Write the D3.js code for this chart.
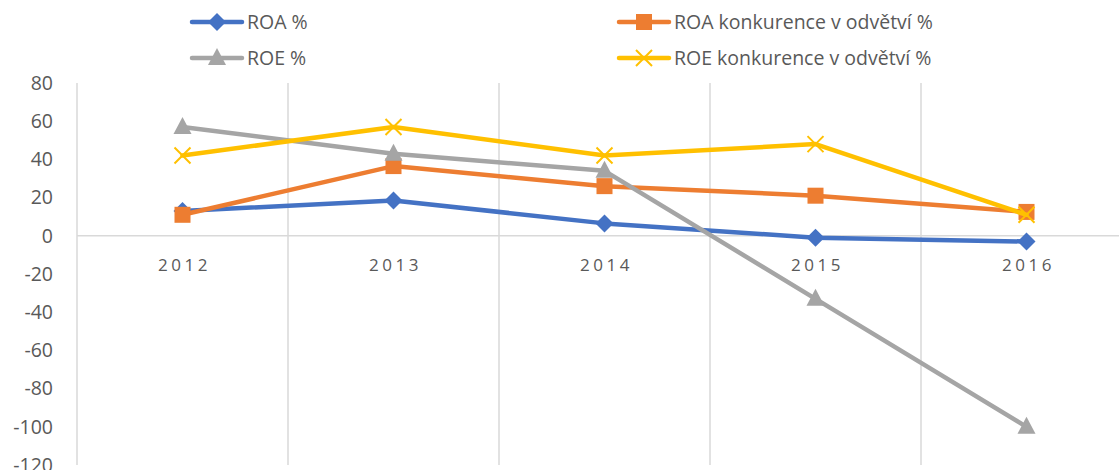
<!DOCTYPE html>
<html>
<head>
<meta charset="utf-8">
<script src="https://cdn.jsdelivr.net/npm/d3@7"></script>
<style>
  body { margin: 0; background: #fff; }
  text { font-family: "Open Sans", "Liberation Sans", sans-serif; fill: #595959; }
</style>
</head>
<body>
<svg id="chart"></svg>
<script>
// data
var years = ["2012", "2013", "2014", "2015", "2016"];
var roa = [13, 18.5, 6.5, -1, -3];
var roaKonk = [11, 36.5, 26, 21, 12.5];
var roe = [57, 43, 34, -33, -100];
var roeKonk = [42, 57, 42, 48, 11];
var yTicks = [80, 60, 40, 20, 0, -20, -40, -60, -80, -100, -120];

var series = [
	{ name: "ROA %", values: roa, color: "#4472C4", marker: "diamond" },
	{ name: "ROA konkurence v odvětví %", values: roaKonk, color: "#ED7D31", marker: "square" },
	{ name: "ROE %", values: roe, color: "#A5A5A5", marker: "triangle" },
	{ name: "ROE konkurence v odvětví %", values: roeKonk, color: "#FFC000", marker: "cross" }
];

var width = 1119, height = 470;
var margin = { left: 77, right: -13, top: 83, bottom: 5 };

var svg = d3.select("#chart")
	.attr("width", width)
	.attr("height", height);

var x = d3.scaleBand()
	.domain(years)
	.range([margin.left, width - margin.right])
	.padding(0);

var y = d3.scaleLinear()
	.domain([-120, 80])
	.range([height - margin.bottom, margin.top]);

// vertical gridlines at category boundaries
var bounds = years.slice(1).map(function(d) { return x(d); });
svg.append("g").selectAll("line")
	.data(bounds)
	.enter().append("line")
	.attr("x1", function(d) { return d; })
	.attr("x2", function(d) { return d; })
	.attr("y1", y(80))
	.attr("y2", y(-120))
	.attr("stroke", "#D9D9D9")
	.attr("stroke-width", 1.5);

// left axis line
svg.append("line")
	.attr("x1", margin.left).attr("x2", margin.left)
	.attr("y1", y(80)).attr("y2", y(-120))
	.attr("stroke", "#D9D9D9")
	.attr("stroke-width", 1.5);

// zero line
svg.append("line")
	.attr("x1", margin.left).attr("x2", width)
	.attr("y1", y(0)).attr("y2", y(0))
	.attr("stroke", "#D9D9D9")
	.attr("stroke-width", 1.5);

// y labels
svg.append("g").selectAll("text")
	.data(yTicks)
	.enter().append("text")
	.attr("x", 53)
	.attr("y", function(d) { return y(d); })
	.attr("dy", "0.35em")
	.attr("text-anchor", "end")
	.style("font-size", "19.5px")
	.text(function(d) { return d; });

// x labels
svg.append("g").selectAll("text")
	.data(years)
	.enter().append("text")
	.attr("x", function(d) { return x(d) + x.bandwidth() / 2 + 2; })
	.attr("y", y(0) + 35)
	.attr("text-anchor", "middle")
	.style("font-size", "17px")
	.style("letter-spacing", "3.5px")
	.text(function(d) { return d; });

var line = d3.line()
	.x(function(d, i) { return x(years[i]) + x.bandwidth() / 2; })
	.y(function(d) { return y(d); });

function drawMarker(g, type, color, cx, cy) {
	if (type === "diamond") {
		g.append("path")
			.attr("d", "M" + cx + "," + (cy - 9) + "L" + (cx + 9) + "," + cy + "L" + cx + "," + (cy + 9) + "L" + (cx - 9) + "," + cy + "Z")
			.attr("fill", color);
	} else if (type === "square") {
		g.append("rect")
			.attr("x", cx - 8).attr("y", cy - 8)
			.attr("width", 16).attr("height", 16)
			.attr("fill", color);
	} else if (type === "triangle") {
		g.append("path")
			.attr("d", "M" + cx + "," + (cy - 10) + "L" + (cx + 9) + "," + (cy + 7) + "L" + (cx - 9) + "," + (cy + 7) + "Z")
			.attr("fill", color);
	} else if (type === "cross") {
		g.append("path")
			.attr("d", "M" + (cx - 8) + "," + (cy - 8) + "L" + (cx + 8) + "," + (cy + 8) + "M" + (cx + 8) + "," + (cy - 8) + "L" + (cx - 8) + "," + (cy + 8))
			.attr("stroke", color)
			.attr("stroke-width", 2)
			.attr("fill", "none");
	}
}

series.forEach(function(s) {
	var g = svg.append("g");
	g.append("path")
		.datum(s.values)
		.attr("d", line)
		.attr("fill", "none")
		.attr("stroke", s.color)
		.attr("stroke-width", 4.5)
		.attr("stroke-linejoin", "round")
		.attr("stroke-linecap", "round");
	s.values.forEach(function(v, i) {
		drawMarker(g, s.marker, s.color, x(years[i]) + x.bandwidth() / 2, y(v));
	});
});

// legend
var legendPos = [
	{ x: 192, y: 22 },
	{ x: 619, y: 22 },
	{ x: 192, y: 58 },
	{ x: 619, y: 58 }
];
series.forEach(function(s, i) {
	var p = legendPos[i];
	var g = svg.append("g");
	g.append("line")
		.attr("x1", p.x).attr("x2", p.x + 50)
		.attr("y1", p.y).attr("y2", p.y)
		.attr("stroke", s.color)
		.attr("stroke-width", 4.5)
		.attr("stroke-linecap", "round");
	drawMarker(g, s.marker, s.color, p.x + 25, p.y);
	g.append("text")
		.attr("x", p.x + 55)
		.attr("y", p.y)
		.attr("dy", "0.35em")
		.style("font-size", "19.5px")
		.text(s.name);
});
</script>
</body>
</html>
